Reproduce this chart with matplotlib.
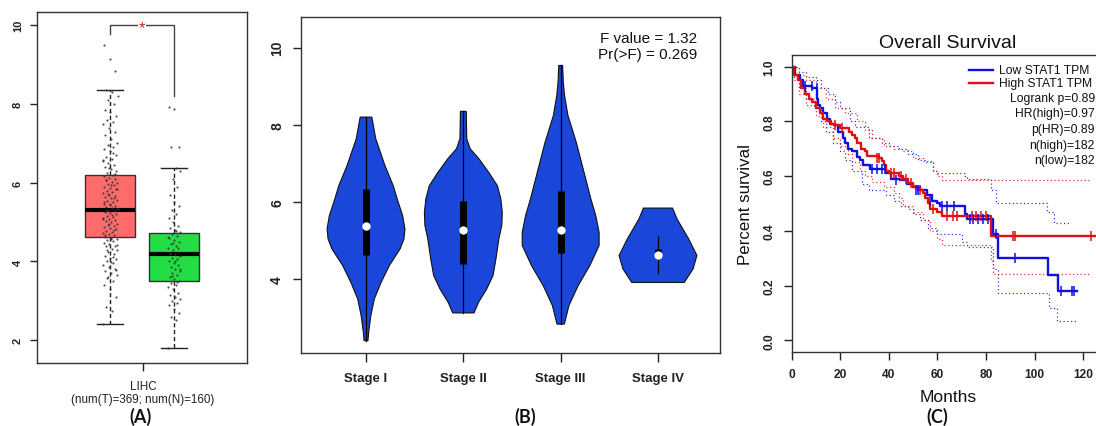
import matplotlib
matplotlib.use("Agg")
import matplotlib.pyplot as plt
from matplotlib.lines import Line2D
from matplotlib import font_manager as fm
import numpy as np

plt.rcParams['font.family'] = ['Liberation Sans', 'DejaVu Sans']

W, H = 1096, 427

# ---------------- Panel A data ----------------
groups_A = ["Tumor", "Normal"]
box_colors_A = ["#FF6B6B", "#22DD44"]
stats_A = [
    dict(med=5.30, q1=4.62, q3=6.20, whislo=2.40, whishi=8.35),
    dict(med=4.20, q1=3.50, q3=4.72, whislo=1.80, whishi=6.38),
]
tumor_points = [2.4, 2.75, 2.85, 3.1, 3.3, 3.4, 3.5, 3.6, 3.65, 3.7, 3.75, 3.8, 3.85, 3.9, 3.95,
                4.0, 4.05, 4.1, 4.15, 4.2, 4.25, 4.3, 4.32, 4.38, 4.4, 4.45, 4.48, 4.52, 4.55, 4.58,
                4.6, 4.62, 4.66, 4.7, 4.72, 4.75, 4.78, 4.82, 4.85, 4.88, 4.9, 4.93, 4.96, 5.0, 5.02,
                5.05, 5.08, 5.1, 5.13, 5.16, 5.2, 5.22, 5.25, 5.28, 5.3, 5.32, 5.35, 5.38, 5.4, 5.43,
                5.46, 5.5, 5.53, 5.56, 5.6, 5.63, 5.66, 5.7, 5.73, 5.76, 5.8, 5.83, 5.86, 5.9, 5.93,
                5.96, 6.0, 6.03, 6.06, 6.1, 6.13, 6.16, 6.2, 6.25, 6.3, 6.35, 6.4, 6.45, 6.5, 6.55,
                6.6, 6.65, 6.7, 6.8, 6.85, 6.9, 6.95, 7.0, 7.1, 7.2, 7.3, 7.4, 7.5, 7.55, 7.6, 7.7,
                7.8, 7.85, 8.0, 8.1, 8.2, 8.3, 8.35, 8.85, 9.15, 9.5,
                4.12, 4.28, 4.42, 4.57, 4.68, 4.81, 4.94, 5.07, 5.18, 5.27, 5.34, 5.45, 5.52, 5.61,
                5.72, 5.84, 5.95, 6.08, 6.22, 6.38, 6.58, 6.75, 3.58, 3.78, 3.98]
normal_points = [1.8, 2.5, 2.6, 2.7, 2.8, 2.9, 2.95, 3.0, 3.05, 3.1, 3.15, 3.2, 3.3, 3.35, 3.4,
                 3.45, 3.5, 3.55, 3.6, 3.65, 3.7, 3.75, 3.8, 3.85, 3.9, 3.95, 4.0, 4.05, 4.1, 4.15,
                 4.2, 4.22, 4.25, 4.3, 4.35, 4.4, 4.45, 4.5, 4.55, 4.6, 4.65, 4.7, 4.75, 4.8, 4.85,
                 4.9, 5.0, 5.1, 5.2, 5.3, 5.4, 5.5, 5.7, 5.9, 6.1, 6.3, 6.38, 6.9, 6.92, 7.88, 7.92,
                 3.48, 3.62, 3.82, 4.02, 4.18, 4.33, 4.48, 4.62, 4.78]
label_A = "LIHC\n(num(T)=369; num(N)=160)"
yticks_A = [2, 4, 6, 8, 10]

# ---------------- Panel B data ----------------
stages = ["Stage I", "Stage II", "Stage III", "Stage IV"]
violin_vals = [
    [8.20, 7.64, 6.94, 6.42, 6.08, 5.64, 5.30, 5.04, 4.78, 4.35, 3.91, 3.48, 3.05, 2.61, 2.40],
    [8.35, 7.64, 7.38, 7.12, 6.77, 6.42, 6.08, 5.73, 5.39, 5.04, 4.52, 4.09, 3.74, 3.39, 3.12],
    [9.54, 9.11, 8.76, 8.24, 7.55, 6.77, 6.08, 5.65, 5.21, 4.87, 4.35, 3.83, 3.31, 2.83],
    [5.84, 5.56, 5.04, 4.61, 4.26, 3.91],
]
violin_hw = [
    [0.06, 0.10, 0.195, 0.28, 0.32, 0.377, 0.40, 0.39, 0.35, 0.24, 0.155, 0.085, 0.05, 0.027, 0.02],
    [0.03, 0.035, 0.07, 0.16, 0.26, 0.35, 0.385, 0.40, 0.395, 0.365, 0.335, 0.305, 0.24, 0.155, 0.11],
    [0.02, 0.027, 0.04, 0.075, 0.16, 0.24, 0.31, 0.36, 0.395, 0.395, 0.30, 0.18, 0.085, 0.038],
    [0.15, 0.195, 0.315, 0.40, 0.36, 0.27],
]
stage_q1 = [4.62, 4.39, 4.67, 4.60]
stage_q3 = [6.34, 6.02, 6.29, 4.78]
stage_med = [5.38, 5.27, 5.27, 4.62]
stage_lo = [2.40, 3.12, 2.83, 4.15]
stage_hi = [8.20, 8.35, 9.54, 5.12]
f_text = "F value = 1.32\nPr(>F) = 0.269"
yticks_B = [4, 6, 8, 10]

# ---------------- Panel C data ----------------
low_t = [0, 1.4, 3.4, 4.8, 8.2, 10.3, 11, 11.7, 13, 14.4, 15.8, 17.5, 19.2, 21.3, 22, 23.3, 24.7,
         26.7, 28.1, 29.5, 32.2, 39, 41, 44.5, 47.3, 50, 52.8, 55.5, 57.6, 59.7, 61, 71.3, 72,
         82.7, 85, 105.6, 109.5, 117.5]
low_s = [1.0, 0.97, 0.95, 0.93, 0.92, 0.88, 0.86, 0.85, 0.83, 0.81, 0.79, 0.785, 0.76, 0.74, 0.72,
         0.70, 0.69, 0.67, 0.66, 0.64, 0.625, 0.61, 0.59, 0.585, 0.57, 0.56, 0.55, 0.53, 0.51, 0.50,
         0.49, 0.46, 0.445, 0.39, 0.30, 0.24, 0.18, 0.18]
high_t = [0, 1, 2.5, 4, 5.5, 7, 8.5, 10, 11.5, 13, 14.5, 16, 18, 20, 23.5, 25, 26, 27, 28.5, 30,
          31, 36, 37, 38, 39, 40, 44, 46, 48, 50, 52, 54, 55, 56, 57, 60, 62, 82, 125]
high_s = [1.0, 0.97, 0.95, 0.92, 0.90, 0.88, 0.87, 0.85, 0.83, 0.81, 0.80, 0.79, 0.785, 0.775,
          0.76, 0.75, 0.74, 0.72, 0.70, 0.69, 0.675, 0.665, 0.655, 0.64, 0.62, 0.61, 0.60, 0.59,
          0.575, 0.56, 0.55, 0.54, 0.52, 0.50, 0.48, 0.47, 0.455, 0.38, 0.38]
low_cens_t = [5.5, 8.2, 10.3, 33, 35, 37, 38.4, 43, 51, 52, 57, 62, 64, 67, 73.4, 74.8, 76.8,
              78.9, 80.9, 84, 91.9, 111, 115.2, 116.2]
low_cens_s = [0.93, 0.93, 0.92, 0.625, 0.625, 0.625, 0.625, 0.585, 0.55, 0.55, 0.51, 0.49, 0.49,
              0.49, 0.445, 0.445, 0.445, 0.445, 0.445, 0.39, 0.30, 0.18, 0.18, 0.18]
high_cens_t = [18, 20.5, 35, 36, 41, 42, 45, 47, 49, 53, 58, 64, 66.5, 67.9, 74, 76, 78, 80,
               91.2, 91.9, 123]
high_cens_s = [0.785, 0.775, 0.665, 0.665, 0.61, 0.61, 0.60, 0.59, 0.575, 0.55, 0.48, 0.455,
               0.455, 0.455, 0.455, 0.455, 0.455, 0.455, 0.38, 0.38, 0.38]
high_up_t = [0, 3, 6, 10, 14, 18, 22, 27, 30, 33, 37, 38, 42, 46, 50, 54, 58, 60, 62, 123]
high_up_s = [1.0, 0.97, 0.95, 0.92, 0.88, 0.85, 0.83, 0.80, 0.77, 0.74, 0.73, 0.71, 0.70, 0.69,
             0.665, 0.655, 0.62, 0.60, 0.586, 0.586]
high_lo_t = [0, 1, 3, 6, 10, 13, 17, 20, 23, 25, 28, 30, 33, 38, 42, 44, 46, 50, 54, 57, 60, 62,
             82, 83, 123]
high_lo_s = [1.0, 0.95, 0.90, 0.86, 0.82, 0.78, 0.74, 0.71, 0.68, 0.65, 0.62, 0.60, 0.58, 0.56,
             0.54, 0.52, 0.49, 0.47, 0.44, 0.40, 0.37, 0.35, 0.29, 0.243, 0.243]
low_up_t = [0, 3, 6, 10, 12, 15, 18, 20, 24, 26, 32, 37, 40, 44, 48, 52, 55, 58, 60, 71, 72, 82,
            84, 105, 108, 115]
low_up_s = [1.0, 0.98, 0.96, 0.95, 0.92, 0.90, 0.87, 0.85, 0.80, 0.78, 0.74, 0.72, 0.71, 0.70,
            0.68, 0.66, 0.65, 0.62, 0.61, 0.60, 0.59, 0.55, 0.50, 0.47, 0.43, 0.43]
low_lo_t = [0, 1, 3, 6, 9, 12, 14, 17, 20, 22, 25, 29, 32, 39, 42, 45, 48, 50, 53, 56, 60, 70, 72,
            83, 85, 106, 109, 117]
low_lo_s = [1.0, 0.96, 0.92, 0.88, 0.85, 0.80, 0.76, 0.72, 0.69, 0.66, 0.62, 0.57, 0.55, 0.53,
            0.51, 0.49, 0.48, 0.46, 0.44, 0.41, 0.39, 0.36, 0.34, 0.26, 0.175, 0.12, 0.072, 0.072]
legend_labels = ["Low STAT1 TPM", "High STAT1 TPM"]
stat_lines = ["Logrank p=0.89", "HR(high)=0.97", "p(HR)=0.89", "n(high)=182", "n(low)=182"]
xticks_C = [0, 20, 40, 60, 80, 100, 120]
yticks_C = [0.0, 0.2, 0.4, 0.6, 0.8, 1.0]

BLUE = "#1010E0"
RED = "#E01010"
SPINE = "#333333"


def find_font(bold):
    target = "liberationsans-bold.ttf" if bold else "liberationsans-regular.ttf"
    for f in fm.fontManager.ttflist:
        if f.fname.lower().endswith(target):
            return f.fname
    return None


_bold_file = find_font(True)


def bold_fp(size):
    if _bold_file:
        return fm.FontProperties(fname=_bold_file, size=size)
    return fm.FontProperties(family="DejaVu Sans", weight="bold", size=size)


def axrect(l, t, r, b):
    return [l / W, 1 - b / H, (r - l) / W, (b - t) / H]


def fx(x):
    return x / W


def fy(y):
    return 1 - y / H


fig = plt.figure(figsize=(W / 100, H / 100), dpi=100)


def style_spines(ax, color=SPINE, lw=1.0):
    for s in ax.spines.values():
        s.set_color(color)
        s.set_linewidth(lw)


def bold_labels(labels, size, rotate=False):
    for lab in labels:
        lab.set_fontproperties(bold_fp(size))
        if rotate:
            lab.set_rotation(90)
            lab.set_va("center")


# ================= Panel A =================
axA = fig.add_axes(axrect(36.7, 13.3, 246.7, 364))
posA = [0.35, 0.655]
bstats = []
for st, name in zip(stats_A, groups_A):
    d = dict(st)
    d["fliers"] = []
    d["label"] = name
    bstats.append(d)
bp = axA.bxp(bstats, positions=posA, widths=0.238, patch_artist=True, showfliers=False,
             boxprops=dict(edgecolor="#333333", linewidth=1.0),
             whiskerprops=dict(color="#222222", linewidth=1.0, linestyle=(0, (3, 2))),
             capprops=dict(color="#222222", linewidth=1.0),
             medianprops=dict(color="black", linewidth=3.0),
             capwidths=0.125)
for patch, c in zip(bp["boxes"], box_colors_A):
    patch.set_facecolor(c)

golden = 0.6180339887
for pts, p, spread in [(tumor_points, posA[0], 0.036), (normal_points, posA[1], 0.03)]:
    n = len(pts)
    jit = ((np.arange(n) * golden) % 1.0 - 0.5) * 2 * spread
    axA.scatter(p + jit, pts, s=2.4, color="#333333", alpha=0.85, linewidths=0, zorder=5)

# significance bracket
axA.plot([posA[0], posA[0], posA[1], posA[1]], [9.78, 10.0, 10.0, 8.2], color="#444444",
         lw=1.0, zorder=4)
axA.text(0.5, 9.95, "*", color="#E02020", fontsize=12, ha="center", va="center", zorder=6,
         bbox=dict(facecolor="white", edgecolor="none", pad=0.5))

axA.set_xlim(0, 1)
axA.set_ylim(1.42, 10.33)
axA.set_yticks(yticks_A)
axA.set_yticklabels([str(v) for v in yticks_A])
axA.set_xticks([0.506])
axA.set_xticklabels([label_A], fontsize=8.4, linespacing=1.15)
axA.tick_params(axis="y", length=5, width=1, pad=5, colors="#222222")
axA.tick_params(axis="x", length=6, width=1, pad=6, colors="#222222")
bold_labels(axA.get_yticklabels(), 8, rotate=True)
style_spines(axA)

# ================= Panel B =================
axB = fig.add_axes(axrect(300.7, 17.5, 720, 354))
for i, (vals, hws) in enumerate(zip(violin_vals, violin_hw)):
    c = i + 1
    v = np.array(vals)
    h = np.array(hws)
    xs = np.concatenate([c - h, (c + h)[::-1], [c - h[0]]])
    ys = np.concatenate([v, v[::-1], [v[0]]])
    axB.fill(xs, ys, facecolor="#1A47D9", edgecolor="#111111", linewidth=0.8, zorder=2)
    axB.plot([c, c], [stage_lo[i], stage_hi[i]], color="black", lw=0.9, zorder=3)
    axB.plot([c, c], [stage_q1[i], stage_q3[i]], color="black", lw=5, solid_capstyle="butt",
             zorder=4)
    axB.plot([c], [stage_med[i]], marker="o", color="white", markersize=6, markeredgewidth=0,
             zorder=5)

axB.text(0.946, 0.958, f_text, transform=axB.transAxes, ha="right", va="top", fontsize=11,
         linespacing=1.2, color="#111111")
axB.set_xlim(0.329, 4.637)
axB.set_ylim(2.08, 10.81)
axB.set_xticks([1, 2, 3, 4])
axB.set_xticklabels(stages)
axB.set_yticks(yticks_B)
axB.set_yticklabels([str(v) for v in yticks_B])
axB.tick_params(axis="y", length=6, width=1, pad=6, colors="#222222")
axB.tick_params(axis="x", length=6.5, width=1, pad=7, colors="#222222")
bold_labels(axB.get_yticklabels(), 10, rotate=True)
bold_labels(axB.get_xticklabels(), 9.5)
style_spines(axB)

# ================= Panel C =================
axC = fig.add_axes(axrect(791.7, 56, 1110, 352.7))
for t, s, c in [(low_up_t, low_up_s, BLUE), (low_lo_t, low_lo_s, BLUE),
                (high_up_t, high_up_s, RED), (high_lo_t, high_lo_s, RED)]:
    axC.step(t, s, where="post", color=c, lw=0.9, linestyle=(0, (1, 2)), alpha=0.85)
axC.step(low_t, low_s, where="post", color=BLUE, lw=1.7)
axC.step(high_t, high_s, where="post", color=RED, lw=1.7)
axC.plot(low_cens_t, low_cens_s, linestyle="none", marker="|", color=BLUE, markersize=7,
         markeredgewidth=1.1)
axC.plot(high_cens_t, high_cens_s, linestyle="none", marker="|", color=RED, markersize=7,
         markeredgewidth=1.1)
axC.set_xlim(0, 131)
axC.set_ylim(-0.041, 1.042)
axC.set_xticks(xticks_C)
axC.set_xticklabels([str(v) for v in xticks_C])
axC.set_yticks(yticks_C)
axC.set_yticklabels([f"{v:.1f}" for v in yticks_C])
axC.tick_params(axis="both", length=6, width=1, pad=6, colors="#222222")
bold_labels(axC.get_yticklabels(), 8.6, rotate=True)
bold_labels(axC.get_xticklabels(), 8.6)
style_spines(axC)
axC.spines["right"].set_visible(False)

fig.text(fx(948), fy(43), "Overall Survival", ha="center", va="center", fontsize=14,
         color="#111111")
fig.text(fx(745), fy(205), "Percent survival", ha="center", va="center", rotation=90,
         fontsize=12.2, color="#111111")
fig.text(fx(948), fy(398), "Months", ha="center", va="center", fontsize=12.5, color="#111111")

# legend
for i, (lab, c) in enumerate(zip(legend_labels, [BLUE, RED])):
    yy = 71 + i * 12.5
    fig.add_artist(Line2D([fx(969), fx(993)], [fy(yy), fy(yy)], color=c, lw=1.7,
                          transform=fig.transFigure))
    fig.text(fx(999), fy(yy), lab, ha="left", va="center", fontsize=8.7, color="#111111")
for i, lab in enumerate(stat_lines):
    yy = 99 + i * 15.5
    fig.text(fx(1095), fy(yy), lab, ha="right", va="center", fontsize=8.7, color="#111111")

# panel labels
for x, lab in [(140, "(A)"), (525, "(B)"), (937, "(C)")]:
    fig.text(fx(x), fy(417), lab, ha="center", va="center", fontsize=13, fontweight="bold",
             family=["Lato", "DejaVu Sans"], color="#111111")

fig.savefig("out.png", dpi=100)
